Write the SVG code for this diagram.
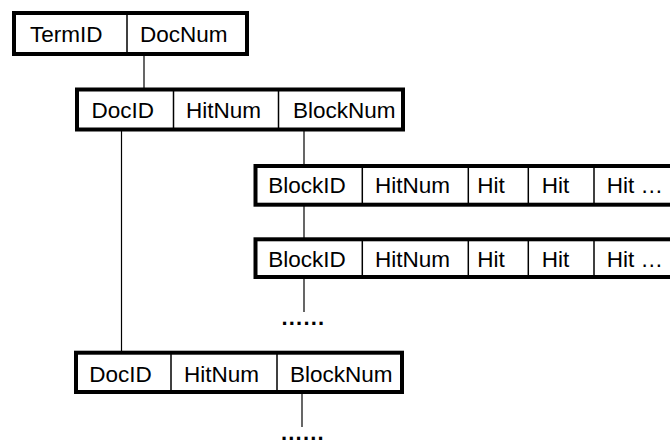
<svg xmlns="http://www.w3.org/2000/svg" width="670" height="441" viewBox="0 0 670 441">
<style>
.box{fill:#fff;stroke:#000;stroke-width:4}
.div{stroke:#000;stroke-width:1.5}
.t{font-family:"Liberation Sans",Arial,sans-serif;font-size:22.5px;fill:#000}
.dots{font-family:"Liberation Sans",Arial,sans-serif;font-size:22px;font-weight:bold;letter-spacing:1.2px;fill:#000}
.c{stroke:#000;stroke-width:1.2;fill:none}
</style>
<rect width="670" height="441" fill="#fff"/>
<g id="connectors">
<line class="c" x1="144" y1="54" x2="144" y2="89"/>
<line class="c" x1="121.5" y1="130" x2="121.5" y2="352"/>
<line class="c" x1="304" y1="130" x2="304" y2="166"/>
<line class="c" x1="304" y1="205" x2="304" y2="239"/>
<line class="c" x1="304" y1="277" x2="304" y2="312"/>
<line class="c" x1="302" y1="392" x2="302" y2="427"/>
</g>
<g id="term">
<rect class="box" x="14" y="13" width="233" height="41"/>
<line class="div" x1="127" y1="13" x2="127" y2="54"/>
<text class="t" x="30" y="42">TermID</text>
<text class="t" x="140" y="42">DocNum</text>
</g>
<g id="doc1">
<rect class="box" x="77" y="89.5" width="326" height="40"/>
<line class="div" x1="173.5" y1="89.5" x2="173.5" y2="129.5"/>
<line class="div" x1="278.5" y1="89.5" x2="278.5" y2="129.5"/>
<text class="t" x="91.5" y="117.5">DocID</text>
<text class="t" x="186" y="117.5">HitNum</text>
<text class="t" x="293" y="117.5">BlockNum</text>
</g>
<g id="block1">
<rect class="box" x="255.5" y="166" width="430" height="38.7"/>
<line class="div" x1="362.3" y1="166" x2="362.3" y2="204.7"/>
<line class="div" x1="468.3" y1="166" x2="468.3" y2="204.7"/>
<line class="div" x1="528.3" y1="166" x2="528.3" y2="204.7"/>
<line class="div" x1="594" y1="166" x2="594" y2="204.7"/>
<text class="t" x="268.3" y="193">BlockID</text>
<text class="t" x="375" y="193">HitNum</text>
<text class="t" x="477.3" y="193">Hit</text>
<text class="t" x="541.7" y="193">Hit</text>
<text class="t" x="606.7" y="193">Hit …</text>
</g>
<g id="block2">
<rect class="box" x="255.5" y="239.3" width="430" height="37.7"/>
<line class="div" x1="362.3" y1="239.3" x2="362.3" y2="277"/>
<line class="div" x1="468.3" y1="239.3" x2="468.3" y2="277"/>
<line class="div" x1="528.3" y1="239.3" x2="528.3" y2="277"/>
<line class="div" x1="594" y1="239.3" x2="594" y2="277"/>
<text class="t" x="268.3" y="266.5">BlockID</text>
<text class="t" x="375" y="266.5">HitNum</text>
<text class="t" x="477.3" y="266.5">Hit</text>
<text class="t" x="541.7" y="266.5">Hit</text>
<text class="t" x="606.7" y="266.5">Hit …</text>
</g>
<g id="dots1"><text class="dots" x="281.5" y="324.5">......</text></g>
<g id="doc2">
<rect class="box" x="76" y="352.7" width="326" height="39.3"/>
<line class="div" x1="171" y1="352.7" x2="171" y2="392"/>
<line class="div" x1="277" y1="352.7" x2="277" y2="392"/>
<text class="t" x="89.3" y="381.5">DocID</text>
<text class="t" x="184" y="381.5">HitNum</text>
<text class="t" x="290" y="381.5">BlockNum</text>
</g>
<g id="dots2"><text class="dots" x="281" y="439.5">......</text></g>
</svg>
